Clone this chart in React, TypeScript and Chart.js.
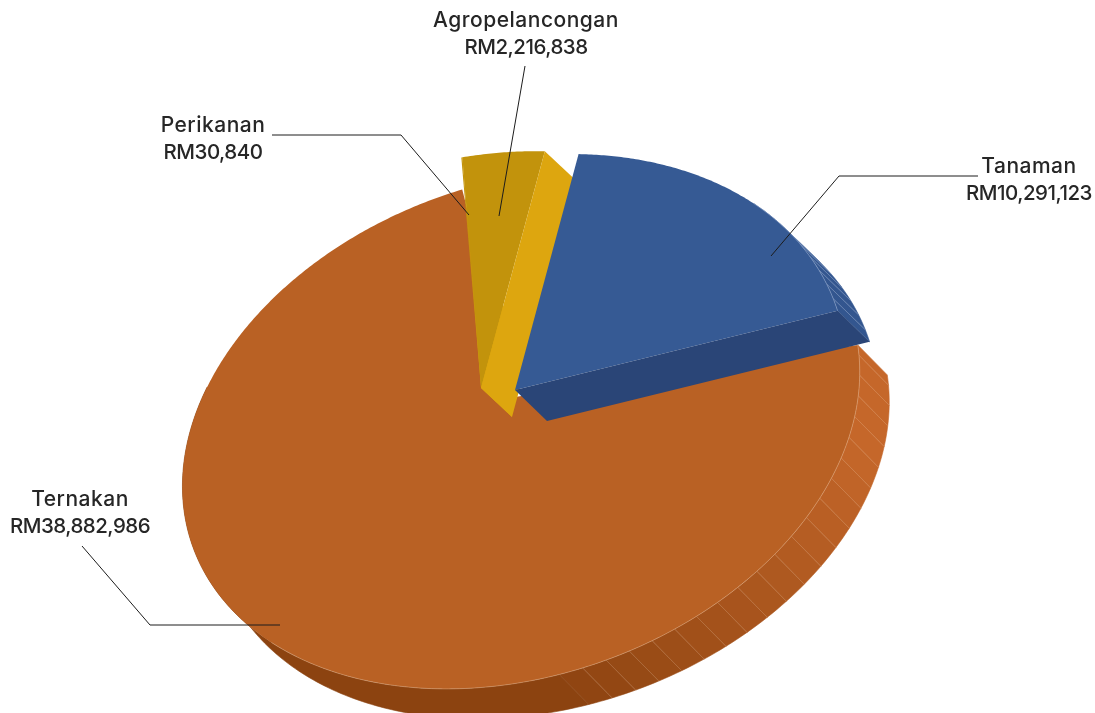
import React, { useEffect, useRef } from "react";
import { Chart, registerables } from "chart.js";

Chart.register(...registerables);

const categories = ["Ternakan", "Perikanan", "Agropelancongan", "Tanaman"];
const values = [38882986, 30840, 2216838, 10291123];
const valueLabels = ["RM38,882,986", "RM30,840", "RM2,216,838", "RM10,291,123"];
const topColors = ["#B96124", "#C2930C", "#C2930C", "#365A94"];
const edgeColors = ["#B96124", "#DDA60F", "#DDA60F", "#2A4577"];

// Perspective camera of the tilted pie, and the pull-out of each slice
const AXIS_TOP = [-21, -246];
const AXIS_RIGHT = [329, -71];
const slicePlacement = [
  { apex: [466, 441], hub: [515, 397], extra: 3, scale: 1, tiltC: 0, tiltS: -0.163, depth: [29.5, 30] },
  { apex: [481, 388], hub: [481, 388], extra: 0, scale: 1.066, tiltC: 0.1376, tiltS: 0.0743, depth: [31, 29] },
  { apex: [481, 388], hub: [481, 388], extra: 0, scale: 1.066, tiltC: 0.1376, tiltS: 0.0743, depth: [31, 29] },
  { apex: [515, 390], hub: [515, 390], extra: 0, scale: 1.062, tiltC: 0.1376, tiltS: 0.0743, depth: [32, 31] },
];
const calloutText = [
  { x: 80, y: 500 },
  { x: 213, y: 126 },
  { x: 526, y: 21 },
  { x: 1029, y: 167 },
];
const calloutLines = [
  [[82, 546], [150, 625], [280, 625]],
  [[272, 135], [401, 135], [469, 215]],
  [[525, 66], [499, 216]],
  [[978, 176], [839, 176], [771, 256]],
];

const NAME_FONT = '500 21px "Inter", "Open Sans", sans-serif';
const VALUE_FONT = '500 20.5px "Inter", "Open Sans", sans-serif';
const DEG = Math.PI / 180;
const FACET = 3.9 * DEG;
const LAST_FACET = 168 * DEG;

type Pt = { x: number; y: number };

function rim(i: number, t: number, depth = 0): Pt {
  const p = slicePlacement[i];
  const c = Math.cos(t);
  const s = Math.sin(t);
  const d = p.scale / (1 + p.tiltC * c + p.tiltS * s);
  return {
    x: p.apex[0] + (AXIS_TOP[0] * c + AXIS_RIGHT[0] * s) * d + p.depth[0] * depth,
    y: p.apex[1] + (AXIS_TOP[1] * c + AXIS_RIGHT[1] * s) * d + p.depth[1] * depth,
  };
}

function mix(a: number[], b: number[], k: number) {
  const q = Math.max(0, Math.min(1, k));
  return `rgb(${a.map((v, j) => Math.round(v + (b[j] - v) * q)).join(",")})`;
}

function wallColor(i: number, t: number) {
  if (i === 3) return "#33568F";
  if (i !== 0) return "#DDA60F";
  const deg = t / DEG;
  return mix([197, 103, 42], [140, 67, 16], (deg - 105) / 65);
}

function tracePath(ctx: CanvasRenderingContext2D, i: number, a: number, b: number) {
  const hub = slicePlacement[i].hub;
  ctx.beginPath();
  ctx.moveTo(hub[0], hub[1]);
  const n = Math.max(2, Math.ceil((b - a) / (0.5 * DEG)));
  for (let k = 0; k <= n; k++) {
    const p = rim(i, a + ((b - a) * k) / n);
    ctx.lineTo(p.x, p.y);
  }
  ctx.closePath();
}

function drawWall(ctx: CanvasRenderingContext2D, i: number, a: number, b: number) {
  const stops: number[] = [a];
  let g = 89.8 * DEG;
  while (g < b && (i !== 0 || g < LAST_FACET)) {
    if (g > a) stops.push(g);
    g += FACET;
  }
  stops.push(b);
  for (let s = 0; s < stops.length - 1; s++) {
    const t = stops[s];
    const e = stops[s + 1];
    const last = s === stops.length - 2 && i === 0;
    const fill = last ? wallColor(i, e) : wallColor(i, (t + e) / 2);
    ctx.beginPath();
    const n = Math.max(4, Math.ceil((e - t) / DEG));
    for (let k = 0; k <= n; k++) {
      const p = rim(i, t + ((e - t) * k) / n);
      k ? ctx.lineTo(p.x, p.y) : ctx.moveTo(p.x, p.y);
    }
    for (let k = n; k >= 0; k--) {
      const p = rim(i, t + ((e - t) * k) / n, 1);
      ctx.lineTo(p.x, p.y);
    }
    ctx.closePath();
    ctx.fillStyle = fill;
    ctx.strokeStyle = fill;
    ctx.lineWidth = 0.6;
    ctx.fill();
    ctx.stroke();
    if ((i === 0 && t / DEG < 165 && s > 0) || (i === 3 && s > 0)) {
      const p0 = rim(i, t);
      const p1 = rim(i, t, 1);
      ctx.beginPath();
      ctx.moveTo(p0.x, p0.y);
      ctx.lineTo(p1.x, p1.y);
      ctx.strokeStyle = i === 3 ? "rgba(200,215,240,0.4)" : "rgba(255,225,195,0.22)";
      ctx.lineWidth = 0.8;
      ctx.stroke();
    }
  }
}

const pie3d = {
  id: "pie3d",
  beforeDatasetsDraw(chart: any) {
    const ctx: CanvasRenderingContext2D = chart.ctx;
    const arcs = chart.getDatasetMeta(0).data;
    ctx.save();
    arcs.forEach((arc: any, i: number) => {
      const { startAngle, endAngle } = arc.getProps(["startAngle", "endAngle"], true);
      const a = startAngle + Math.PI / 2;
      const b = endAngle + Math.PI / 2;
      const place = slicePlacement[i];
      if (i === 0) drawWall(ctx, i, a, 300 * DEG);
      else if (i === 3) drawWall(ctx, i, b - 33 * DEG, b);
      tracePath(ctx, i, a, b + place.extra * DEG);
      ctx.fillStyle = arc.options.backgroundColor;
      ctx.fill();
      // rim highlight where the top meets the wall
      if (i === 0 || i === 3) {
        ctx.beginPath();
        const from = i === 0 ? a : b - 33 * DEG;
        const to = i === 0 ? 225 * DEG : b;
        for (let t = from; t <= to; t += DEG) {
          const p = rim(i, t);
          t === from ? ctx.moveTo(p.x, p.y) : ctx.lineTo(p.x, p.y);
        }
        ctx.strokeStyle = i === 0 ? "rgba(240,200,165,0.55)" : "rgba(190,205,235,0.55)";
        ctx.lineWidth = 0.7;
        ctx.stroke();
      }
      // cut face on the clockwise edge of each pulled slice
      if (i > 0) {
        const p = rim(i, b);
        const q = rim(i, b, 1);
        ctx.beginPath();
        ctx.moveTo(place.apex[0], place.apex[1]);
        ctx.lineTo(p.x, p.y);
        ctx.lineTo(q.x, q.y);
        ctx.lineTo(place.apex[0] + place.depth[0], place.apex[1] + place.depth[1]);
        ctx.closePath();
        ctx.fillStyle = edgeColors[i];
        ctx.fill();
      }
    });
    ctx.restore();
    return false;
  },
  afterDraw(chart: any) {
    const ctx: any = chart.ctx;
    ctx.save();
    ctx.strokeStyle = "#1c1c1c";
    ctx.lineWidth = 1;
    calloutLines.forEach((line) => {
      ctx.beginPath();
      line.forEach((p, k) => (k ? ctx.lineTo(p[0], p[1]) : ctx.moveTo(p[0], p[1])));
      ctx.stroke();
    });
    ctx.fillStyle = "#262626";
    ctx.textAlign = "center";
    ctx.textBaseline = "middle";
    categories.forEach((name, i) => {
      ctx.font = NAME_FONT;
      ctx.letterSpacing = "0.5px";
      ctx.fillText(name, calloutText[i].x, calloutText[i].y);
      ctx.font = VALUE_FONT;
      ctx.letterSpacing = "-0.5px";
      ctx.fillText(valueLabels[i], calloutText[i].x, calloutText[i].y + 27);
    });
    ctx.restore();
  },
};

export default function App() {
  const ref = useRef<HTMLCanvasElement>(null);
  useEffect(() => {
    document.body.style.margin = "0";
    const total = values.reduce((s, v) => s + v, 0);
    const rotation = (1 - values[0] / total) * 360;
    const chart = new Chart(ref.current as HTMLCanvasElement, {
      type: "pie",
      data: {
        labels: categories,
        datasets: [{ data: values, backgroundColor: topColors, borderWidth: 0 }],
      },
      options: {
        animation: false,
        responsive: false,
        rotation,
        plugins: { legend: { display: false }, tooltip: { enabled: false } },
      },
      plugins: [pie3d],
    } as any);
    return () => chart.destroy();
  }, []);
  return <canvas ref={ref} width={1095} height={713} style={{ display: "block" }} />;
}
